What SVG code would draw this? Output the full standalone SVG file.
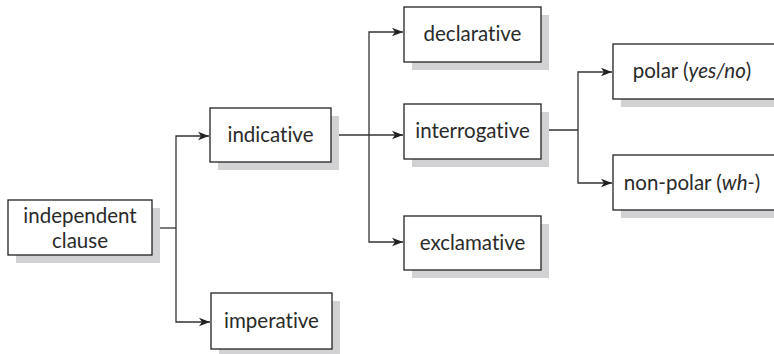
<svg xmlns="http://www.w3.org/2000/svg" width="774" height="354" viewBox="0 0 774 354">
<style>
.box{fill:#fff;stroke:#222;stroke-width:1.3}
.sh{fill:#d2d2d4}
.t{font-family:Lato,"Open Sans",sans-serif;font-size:20.5px;fill:#2a2a2a;text-anchor:middle;font-variant-ligatures:none}
.c{fill:none;stroke:#333;stroke-width:1.3}
</style>
<defs>
<marker id="ah" markerWidth="12" markerHeight="10" refX="11" refY="5" orient="auto" markerUnits="userSpaceOnUse">
<path d="M0,0.8 L11,5 L0,9.2 L3,5 Z" fill="#222"/>
</marker>
</defs>
<g id="connectors">
<path class="c" d="M152,228 H176"/>
<path class="c" d="M176,228 V136 H209" marker-end="url(#ah)"/>
<path class="c" d="M176,228 V322 H210" marker-end="url(#ah)"/>
<path class="c" d="M331,135 H403" marker-end="url(#ah)"/>
<path class="c" d="M369,135 V32 H403" marker-end="url(#ah)"/>
<path class="c" d="M369,135 V242 H403" marker-end="url(#ah)"/>
<path class="c" d="M541,130 H578"/>
<path class="c" d="M578,130 V72 H612" marker-end="url(#ah)"/>
<path class="c" d="M578,130 V183 H612" marker-end="url(#ah)"/>
</g>
<g id="independent">
<rect class="sh" x="16" y="208" width="144" height="55"/>
<rect class="box" x="8" y="200" width="144" height="55"/>
<text class="t" x="80" y="223">independent</text>
<text class="t" x="80" y="248">clause</text>
</g>
<g id="indicative">
<rect class="sh" x="218" y="116" width="121" height="54"/>
<rect class="box" x="210" y="108" width="121" height="54"/>
<text class="t" x="270.5" y="142">indicative</text>
</g>
<g id="imperative">
<rect class="sh" x="219" y="301" width="121" height="56"/>
<rect class="box" x="211" y="293" width="121" height="56"/>
<text class="t" x="271.5" y="328">imperative</text>
</g>
<g id="declarative">
<rect class="sh" x="412" y="15" width="137" height="55"/>
<rect class="box" x="404" y="7" width="137" height="55"/>
<text class="t" x="472.5" y="41">declarative</text>
</g>
<g id="interrogative">
<rect class="sh" x="412" y="112" width="137" height="55"/>
<rect class="box" x="404" y="104" width="137" height="55"/>
<text class="t" x="472.5" y="138">interrogative</text>
</g>
<g id="exclamative">
<rect class="sh" x="412" y="224" width="137" height="54"/>
<rect class="box" x="404" y="216" width="137" height="54"/>
<text class="t" x="472.5" y="250">exclamative</text>
</g>
<g id="polar">
<rect class="sh" x="621" y="52" width="170" height="55"/>
<rect class="box" x="613" y="44" width="170" height="55"/>
<text class="t" x="692" y="78">polar (<tspan font-style="italic">yes/no</tspan>)</text>
</g>
<g id="nonpolar">
<rect class="sh" x="621" y="163" width="170" height="55"/>
<rect class="box" x="613" y="155" width="170" height="55"/>
<text class="t" x="692" y="190">non-polar (<tspan font-style="italic">wh-</tspan>)</text>
</g>
</svg>
